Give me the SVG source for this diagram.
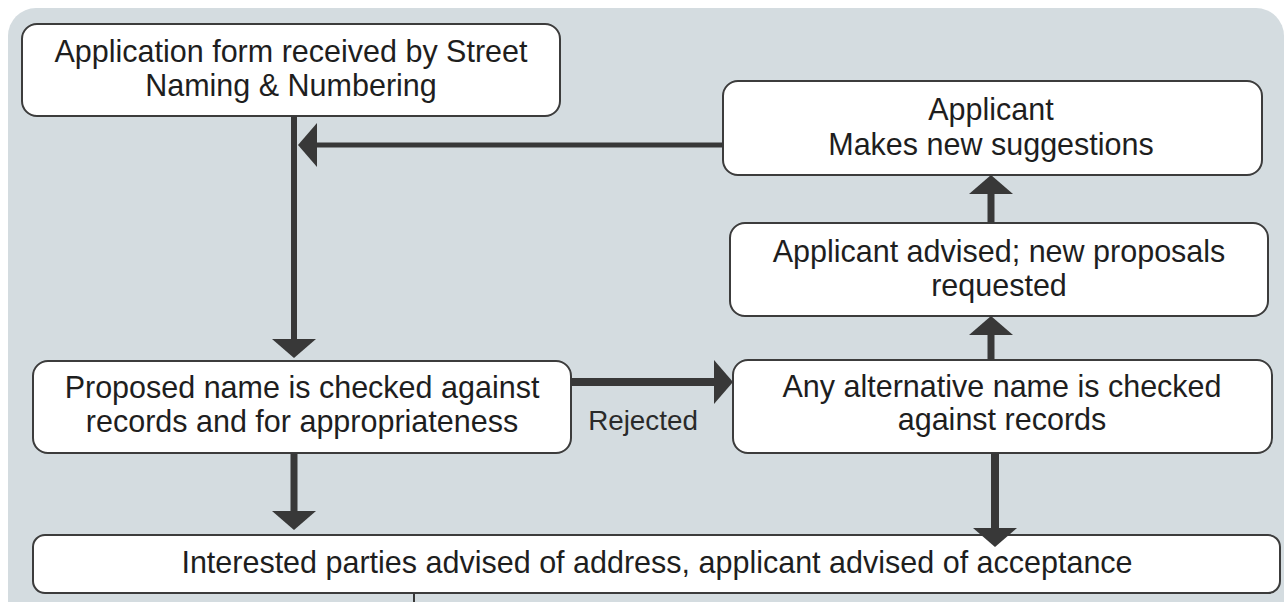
<svg xmlns="http://www.w3.org/2000/svg" width="1285" height="602" viewBox="0 0 1285 602">
<style>
.bg{fill:#d4dce0}
.box{fill:#ffffff;stroke:#3c3c3c;stroke-width:2}
.t{font-family:"Liberation Sans",Arial,sans-serif;font-size:30.5px;fill:#1e1e1e;text-anchor:middle}
.lbl{font-family:"Liberation Sans",Arial,sans-serif;font-size:27.8px;fill:#2a2a2a;text-anchor:middle}
.c{fill:none;stroke:#383838;stroke-linecap:butt}
</style>
<defs>
<marker id="ah" markerUnits="userSpaceOnUse" viewBox="0 0 19 44" markerWidth="19" markerHeight="44" refX="0" refY="22" orient="auto" overflow="visible">
<path d="M0,0 L19,22 L0,44 Z" fill="#383838"/>
</marker>
</defs>
<rect width="1285" height="602" fill="#ffffff"/>
<rect class="bg" x="8" y="8" width="1276" height="640" rx="28"/>
<g id="n1">
<rect class="box" x="22" y="24" width="538" height="92" rx="15"/>
<text class="t" x="291" y="62">Application form received by Street</text>
<text class="t" x="291" y="96">Naming &amp; Numbering</text>
</g>
<g id="n2">
<rect class="box" x="723" y="81" width="539" height="94" rx="15"/>
<text class="t" x="991" y="120">Applicant</text>
<text class="t" x="991" y="155">Makes new suggestions</text>
</g>
<g id="n3">
<rect class="box" x="730" y="223" width="538" height="93" rx="15"/>
<text class="t" x="999" y="262">Applicant advised; new proposals</text>
<text class="t" x="999" y="296">requested</text>
</g>
<g id="n4">
<rect class="box" x="33" y="361" width="538" height="92" rx="15"/>
<text class="t" x="302" y="398">Proposed name is checked against</text>
<text class="t" x="302" y="432">records and for appropriateness</text>
</g>
<g id="n5">
<rect class="box" x="733" y="360" width="539" height="93" rx="15"/>
<text class="t" x="1002" y="397">Any alternative name is checked</text>
<text class="t" x="1002" y="430">against records</text>
</g>
<g id="n6">
<rect class="box" x="33" y="535" width="1247" height="58" rx="12"/>
<text class="t" x="657" y="573">Interested parties advised of address, applicant advised of acceptance</text>
</g>
<g id="connectors">
<path class="c" d="M294,116 V339" stroke-width="6" marker-end="url(#ah)"/>
<path class="c" d="M723,145 H317" stroke-width="5" marker-end="url(#ah)"/>
<path class="c" d="M294,453 V511" stroke-width="7" marker-end="url(#ah)"/>
<path class="c" d="M571,382 H714" stroke-width="8" marker-end="url(#ah)"/>
<path class="c" d="M991,360 V335" stroke-width="7" marker-end="url(#ah)"/>
<path class="c" d="M991,223 V194" stroke-width="7" marker-end="url(#ah)"/>
<path class="c" d="M995,453 V528" stroke-width="8" marker-end="url(#ah)"/>
<path class="c" d="M414,593 V602" stroke-width="2"/>
<text class="lbl" x="643" y="430">Rejected</text>
</g>
</svg>
